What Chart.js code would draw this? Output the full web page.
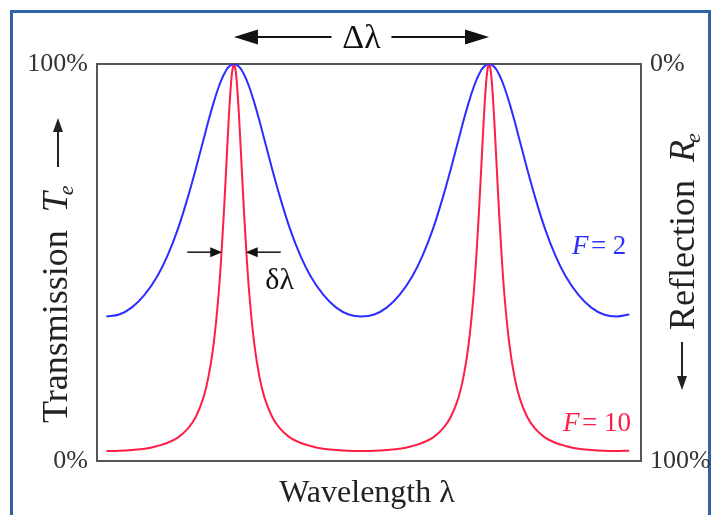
<!DOCTYPE html>
<html>
<head>
<meta charset="utf-8">
<script src="https://cdn.jsdelivr.net/npm/chart.js@4.4.0/dist/chart.umd.min.js"></script>
<style>
  html, body { margin: 0; padding: 0; background: #fff; }
  canvas { display: block; }
</style>
</head>
<body>
<canvas id="grafico" width="712" height="515"></canvas>
<script>
// === DATA (peaks at 1 and 2) ===
const wavelength = [
  0.50, 0.55, 0.60, 0.65, 0.70, 0.74, 0.78, 0.82, 0.85, 0.88, 0.90, 0.92, 0.94, 0.95, 0.96, 0.97, 0.98, 0.99, 0.995, 1.00,
  1.005, 1.01, 1.02, 1.03, 1.04, 1.05, 1.06, 1.08, 1.10, 1.12, 1.15, 1.18, 1.22, 1.26, 1.30, 1.35, 1.40, 1.45, 1.50,
  1.55, 1.60, 1.65, 1.70, 1.74, 1.78, 1.82, 1.85, 1.88, 1.90, 1.92, 1.94, 1.95, 1.96, 1.97, 1.98, 1.99, 1.995, 2.00,
  2.005, 2.01, 2.02, 2.03, 2.04, 2.05, 2.06, 2.08, 2.10, 2.12, 2.15, 2.18, 2.22, 2.26, 2.30, 2.35, 2.40, 2.45, 2.50, 2.55
];

// transmission in %, finesse 2
const transF2 = [
  36.4, 36.9, 38.7, 41.9, 46.6, 51.8, 58.4, 66.6, 73.5, 80.8, 85.7, 90.2, 94.2, 95.9, 97.3, 98.5, 99.3, 99.8, 100, 100,
  100, 99.8, 99.3, 98.5, 97.3, 95.9, 94.2, 90.2, 85.7, 80.8, 73.5, 66.6, 58.4, 51.8, 46.6, 41.9, 38.7, 36.9, 36.4,
  36.9, 38.7, 41.9, 46.6, 51.8, 58.4, 66.6, 73.5, 80.8, 85.7, 90.2, 94.2, 95.9, 97.3, 98.5, 99.3, 99.8, 100, 100,
  100, 99.8, 99.3, 98.5, 97.3, 95.9, 94.2, 90.2, 85.7, 80.8, 73.5, 66.6, 58.4, 51.8, 46.6, 41.9, 38.7, 36.9, 36.4, 36.9
];

// transmission in %, finesse 10
const transF10 = [
  2.5, 2.6, 2.8, 3.1, 3.8, 4.6, 5.9, 8.2, 11.1, 15.9, 21.2, 29.3, 42.2, 51.2, 62.0, 74.3, 86.7, 96.3, 99.0, 100,
  99.0, 96.3, 86.7, 74.3, 62.0, 51.2, 42.2, 29.3, 21.2, 15.9, 11.1, 8.2, 5.9, 4.6, 3.8, 3.1, 2.8, 2.6, 2.5,
  2.6, 2.8, 3.1, 3.8, 4.6, 5.9, 8.2, 11.1, 15.9, 21.2, 29.3, 42.2, 51.2, 62.0, 74.3, 86.7, 96.3, 99.0, 100,
  99.0, 96.3, 86.7, 74.3, 62.0, 51.2, 42.2, 29.3, 21.2, 15.9, 11.1, 8.2, 5.9, 4.6, 3.8, 3.1, 2.8, 2.6, 2.5, 2.6
];

const yTicks = [0, 100];
const peaks = [1, 2];            // the two transmission peaks (Δλ apart)
const fwhmEdges = [0.954, 1.046]; // δλ marker tips on the F=10 peak
const fwhmLevel = 52.6;          // height of δλ arrows, %

// === STYLE ===
const SERIF = '"Liberation Serif", "Times New Roman", serif';
const BLUE = "rgb(45,45,255)";
const RED = "rgb(255,30,70)";

function flecha(ctx, x1, y1, x2, y2, largo, ancho) {
  const ang = Math.atan2(y2 - y1, x2 - x1);
  const bx = x2 - largo * Math.cos(ang);
  const by = y2 - largo * Math.sin(ang);
  ctx.beginPath();
  ctx.moveTo(x1, y1);
  ctx.lineTo(bx + Math.cos(ang), by + Math.sin(ang));
  ctx.stroke();
  ctx.beginPath();
  ctx.moveTo(x2, y2);
  ctx.lineTo(bx + ancho * Math.sin(ang), by - ancho * Math.cos(ang));
  ctx.lineTo(bx - ancho * Math.sin(ang), by + ancho * Math.cos(ang));
  ctx.closePath();
  ctx.fill();
}

function sideLabel(ctx, x, y, word, sym) {
  ctx.save();
  ctx.translate(x, y);
  ctx.rotate(-Math.PI / 2);
  ctx.textAlign = "left";
  ctx.textBaseline = "alphabetic";
  ctx.font = `36px ${SERIF}`;
  ctx.fillText(word, 0, 0);
  let w = ctx.measureText(word + "  ").width;
  ctx.font = `italic 36px ${SERIF}`;
  ctx.fillText(sym, w, 0);
  w += ctx.measureText(sym).width;
  ctx.font = `italic 22px ${SERIF}`;
  ctx.fillText("e", w - 3, 6);
  ctx.restore();
}

// === DECORATION PLUGIN ===
const decoracion = {
  id: "decoracion",
  beforeDraw(chart) {
    const ctx = chart.ctx;
    ctx.save();
    ctx.fillStyle = "#fff";
    ctx.fillRect(0, 0, chart.width, chart.height);
    ctx.strokeStyle = "#2f63a6";
    ctx.lineWidth = 3;
    ctx.strokeRect(11.5, 11.5, 698, 540);
    ctx.restore();
  },
  beforeDatasetsDraw(chart) {
    const { ctx, chartArea: a } = chart;
    ctx.save();
    ctx.strokeStyle = "#555";
    ctx.lineWidth = 2;
    ctx.strokeRect(a.left, a.top, a.right - a.left, a.bottom - a.top);
    ctx.restore();
  },
  afterDraw(chart) {
    const ctx = chart.ctx;
    const x = chart.scales.x, y = chart.scales.y;
    ctx.save();
    ctx.fillStyle = "#111";
    ctx.strokeStyle = "#111";
    ctx.lineWidth = 2;

    // Δλ between the peaks
    const p1 = x.getPixelForValue(peaks[0]);
    const p2 = x.getPixelForValue(peaks[1]);
    const mid = (p1 + p2) / 2;
    flecha(ctx, mid - 30, 37, p1, 37, 24, 7.5);
    flecha(ctx, mid + 30, 37, p2, 37, 24, 7.5);
    ctx.font = `34px ${SERIF}`;
    ctx.textAlign = "center";
    ctx.textBaseline = "middle";
    ctx.fillText("Δλ", mid, 39);

    // δλ on the narrow peak
    const yl = y.getPixelForValue(fwhmLevel);
    const l = x.getPixelForValue(fwhmEdges[0]);
    const r = x.getPixelForValue(fwhmEdges[1]);
    ctx.lineWidth = 1.5;
    flecha(ctx, l - 35, yl, l, yl, 12, 5);
    flecha(ctx, r + 35, yl, r, yl, 12, 5);
    ctx.font = `30px ${SERIF}`;
    ctx.textAlign = "center";
    ctx.fillText("δλ", r + 34, yl + 29);

    // finesse labels
    ctx.font = `italic 27px ${SERIF}`;
    ctx.textAlign = "left";
    ctx.fillStyle = BLUE;
    ctx.fillText("F", x.getPixelForValue(2.325), y.getPixelForValue(54));
    ctx.font = `27px ${SERIF}`;
    ctx.fillText("= 2", x.getPixelForValue(2.325) + 19, y.getPixelForValue(54));
    ctx.fillStyle = RED;
    ctx.font = `italic 27px ${SERIF}`;
    ctx.fillText("F", x.getPixelForValue(2.29), y.getPixelForValue(9.3));
    ctx.font = `27px ${SERIF}`;
    ctx.fillText("= 10", x.getPixelForValue(2.29) + 19, y.getPixelForValue(9.3));

    // axis titles
    ctx.fillStyle = "#222";
    ctx.font = `32px ${SERIF}`;
    ctx.textAlign = "center";
    ctx.textBaseline = "alphabetic";
    ctx.fillText("Wavelength λ", (chart.chartArea.left + chart.chartArea.right) / 2 - 2, 502);
    sideLabel(ctx, 67, 423, "Transmission", "T");
    sideLabel(ctx, 694, 330, "Reflection", "R");

    ctx.strokeStyle = "#222";
    ctx.fillStyle = "#222";
    ctx.lineWidth = 2;
    flecha(ctx, 58, 167, 58, 118, 14, 5);
    flecha(ctx, 682, 342, 682, 390, 14, 5);
    ctx.restore();
  }
};

// === CHART ===
const puntos = (serie) => wavelength.map((w, i) => ({ x: w, y: serie[i] }));

new Chart(document.getElementById("grafico"), {
  type: "line",
  data: {
    datasets: [
      { label: "F = 2", data: puntos(transF2), borderColor: BLUE, borderWidth: 2, pointRadius: 0, cubicInterpolationMode: "monotone" },
      { label: "F = 10", data: puntos(transF10), borderColor: RED, borderWidth: 2, pointRadius: 0, cubicInterpolationMode: "monotone" }
    ]
  },
  options: {
    responsive: false,
    animation: false,
    layout: { padding: { top: 64, left: 0, right: 0, bottom: 0 } },
    plugins: { legend: { display: false }, tooltip: { enabled: false } },
    scales: {
      x: {
        type: "linear",
        min: 0.463,
        max: 2.596,
        grid: { display: false, drawTicks: false },
        border: { display: false },
        ticks: { display: false },
        afterFit: (s) => { s.height = 54; }
      },
      y: {
        position: "left",
        min: 0,
        max: 100,
        afterBuildTicks: (s) => { s.ticks = yTicks.map(v => ({ value: v })); },
        grid: { display: false, drawTicks: false },
        border: { display: false },
        ticks: { padding: 9, color: "#333", font: { family: SERIF, size: 26 }, callback: v => v + "%" },
        afterFit: (s) => { s.width = 97; }
      },
      y2: {
        position: "right",
        min: 0,
        max: 100,
        reverse: true,
        afterBuildTicks: (s) => { s.ticks = yTicks.map(v => ({ value: v })); },
        grid: { display: false, drawTicks: false },
        border: { display: false },
        ticks: { padding: 9, color: "#333", font: { family: SERIF, size: 26 }, callback: v => v + "%" },
        afterFit: (s) => { s.width = 71; }
      }
    }
  },
  plugins: [decoracion]
});
</script>
</body>
</html>
